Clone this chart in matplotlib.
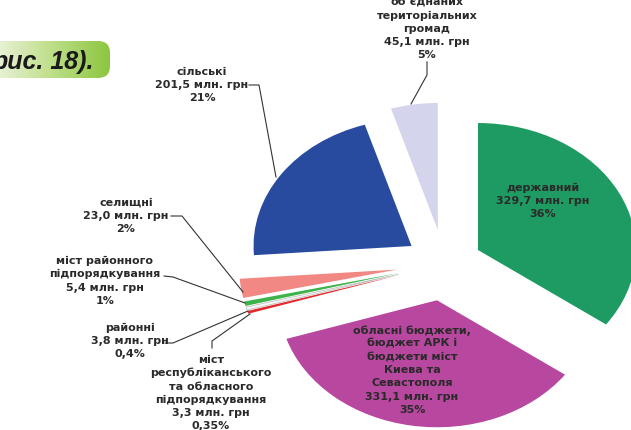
import numpy as np
import matplotlib.pyplot as plt
from matplotlib.patches import FancyBboxPatch
from matplotlib.colors import LinearSegmentedColormap

# budget parts, clockwise from 12 o'clock
names = ['державний',
         'обласні бюджети,\nбюджет АРК і\nбюджети міст\nКиева та\nСевастополя',
         'міст\nреспубліканського\nта обласного\nпідпорядкування',
         'районні',
         'міст районного\nпідпорядкування',
         'селищні',
         'сільські',
         'об’єднаних\nтериторіальних\nгромад']
values = [329.7, 331.1, 3.3, 3.8, 5.4, 23.0, 201.5, 45.1]
shares = ['36%', '35%', '0,35%', '0,4%', '1%', '2%', '21%', '5%']

colors = ['#1e9b62', '#b7479f', '#e3272b', '#f6f6f6', '#3db34a',
          '#f28883', '#284b9f', '#d4d4ec']
explode = [0.24, 0.29, 0.3, 0.3, 0.3, 0.3, 0.25, 0.27]

# label centres and leader lines in pixels (y down)
label_xy = [(543, 201), (412, 370), (211, 393), (130, 341),
            (105, 281), (126, 216), (202, 85), (427, 29)]
leaders = {2: [(212, 348), (212, 341), (250, 314)],
           3: [(165, 343), (173, 343), (248, 311)],
           4: [(164, 276), (173, 277), (245, 303)],
           5: [(171, 216), (182, 216), (243, 292)],
           6: [(249, 85), (259, 85), (276, 177)],
           7: [(427, 62), (427, 75), (411, 104)]}

fig = plt.figure(figsize=(6.31, 4.30), dpi=100)

# pie drawn on an axes stretched so that the circle becomes an ellipse
ax = fig.add_axes([0, 0, 1, 1])
ax.pie(values, explode=explode, colors=colors, startangle=90,
       counterclock=False, wedgeprops=dict(linewidth=0))
ax.patches[3].set_edgecolor('#bbbbbb')
ax.patches[3].set_linewidth(0.5)
ax.set_aspect('auto')
ax.set_xlim(-2.811, 1.182)
ax.set_ylim(-1.308, 2.078)
ax.axis('off')

# overlay in pixel coordinates for labels and the heading pill
ov = fig.add_axes([0, 0, 1, 1])
ov.patch.set_alpha(0)

cmap = LinearSegmentedColormap.from_list('pill', ['#f3f6ea', '#c2e08f', '#8cc63f'])
grad = np.linspace(0, 1, 256).reshape(1, -1)
im = ov.imshow(grad, extent=[-15, 110, 78, 41], cmap=cmap, aspect='auto')
pill = FancyBboxPatch((-15, 41), 125, 37, boxstyle='round,pad=0,rounding_size=12',
                      fc='none', ec='none')
ov.add_patch(pill)
im.set_clip_path(pill)
ov.text(-7, 69, 'рис. 18).', fontsize=18, fontweight='bold', style='italic',
        family='Liberation Sans', color='#1a1a1a', va='baseline', ha='left')

for i, (name, v, s) in enumerate(zip(names, values, shares)):
    txt = name + '\n' + f'{v:.1f}'.replace('.', ',') + ' млн. грн\n' + s
    x, y = label_xy[i]
    ov.text(x, y, txt, ha='center', va='center', multialignment='center',
            fontsize=8, fontweight='bold', color='#2a2a2a', linespacing=1.4)
    if i in leaders:
        xs, ys = zip(*leaders[i])
        ov.plot(xs, ys, color='#333333', lw=0.8)

ov.set_xlim(0, 631)
ov.set_ylim(430, 0)
ov.axis('off')

fig.savefig('out.png', dpi=100)
